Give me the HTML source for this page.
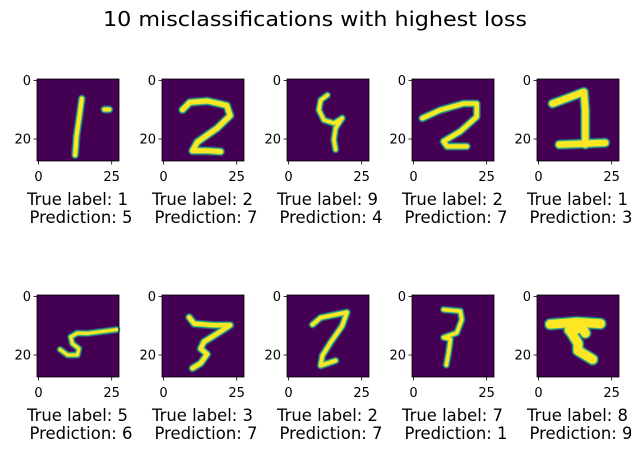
<!DOCTYPE html>
<html><head><meta charset="utf-8"><style>
body{margin:0;background:#fff;width:631px;height:453px;overflow:hidden}
svg{display:block}
text{font-family:"DejaVu Sans","Liberation Sans",sans-serif;fill:#000}
</style></head><body>
<svg id="fig" width="631" height="453" viewBox="0 0 631 453" xmlns="http://www.w3.org/2000/svg">
<text x="315" y="26" font-size="20" text-anchor="middle" textLength="424" lengthAdjust="spacingAndGlyphs">10 misclassifications with highest loss</text>
</svg>
<script>
const trueLabels = [1,2,9,2,1,5,3,2,7,8];
const predictions = [5,7,4,7,3,6,7,7,1,9];
const xTicks = [0,25];
const yTicks = [0,20];
const strokeWidths = [1.4,1.7,1.2,1.5,2.2,1.1,1.5,1.3,1.2,3.0];
const digitStrokes = [
 [[[14.8,6.2],[14,12],[13,19],[12.5,25.5]],[[22.5,9.9],[24.2,9.9]]],
 [[[6.5,10],[9,7.5],[15,7],[21.6,8.5],[22.8,12],[18.3,16.3],[11.6,21],[9.9,24],[15,24],[19.5,24.3]]],
 [[[13.3,5],[11,6.7],[10.4,10.1],[12.1,13.5],[15.5,14.6],[18.3,12.9]],[[18.3,12.9],[16.1,16.3],[15.5,20.2],[16.1,23.6]]],
 [[[3,12.9],[9.2,10.1],[17.1,7.9],[21.6,7.9],[21.6,12.4],[16,17.4],[10.3,20.8],[11.5,22.5],[18.2,22.5]]],
 [[[4.8,7.9],[11,5.6],[15.5,3.9],[16,10.1],[16,21.9]],[[7.1,21.9],[22.8,21.3]]],
 [[[26.7,11.3],[16.6,12.6],[13.3,12.5],[11,13.8],[11.6,16.1],[13.8,17.8],[13.3,20],[9.9,20],[7.4,18.1]]],
 [[[8.8,7.1],[10.5,9.3],[17.2,9.8],[22.8,9.8],[18.3,12.7],[13.8,15.5],[12.7,17.8],[14.9,19.7],[12.7,22.8],[9.9,24.5]]],
 [[[8.2,9.6],[11,7.2],[20,5.4],[18.3,10.1],[14.4,15.7],[11.6,20.2],[11,23.6],[16.1,21.9]]],
 [[[10.3,4.5],[16,5],[16.5,7.9],[14.8,12.4],[10.3,14],[12.6,14.6],[12,19.1],[11.2,23.4]]],
 [[[4,9.5],[13,8.8],[21.2,9.3]],[[11,12],[13.5,16],[13.5,18.5],[18.5,21.5]],[[10.5,11.5],[15,10.8],[16,12.5]]]
];
const NS="http://www.w3.org/2000/svg";
const svg=document.getElementById('fig');
const lefts=[37,162,287,412,537], tops=[79,295], S=82, U=S/28;
function el(tag,attrs,parent){const e=document.createElementNS(NS,tag);for(const k in attrs)e.setAttribute(k,attrs[k]);(parent||svg).appendChild(e);return e;}
for(let i=0;i<10;i++){
 const L=lefts[i%5], T=tops[Math.floor(i/5)];
 const g=el('g',{});
 
 
 const bg=el('rect',{x:L,y:T,width:S,height:S,fill:'#440154'},g);
 
 
 const w=strokeWidths[i];
 const layers=[[w+1.4,'#2c728e',0.7],[w+0.7,'#35b779',1],[w,'#fde725',1]];
 for(const [sw,col,op] of layers){
  for(const s of digitStrokes[i]){
   const pts=s.map(p=>(L+(p[0]+0.5)*U).toFixed(1)+','+(T+(p[1]+0.5)*U).toFixed(1)).join(' ');
   const pl=el('polyline',{points:pts,fill:'none',stroke:col,'stroke-width':(sw*U).toFixed(1),'stroke-linecap':'round','stroke-linejoin':'round',opacity:op},g);
   
   
  }
 }
 el('rect',{x:L,y:T,width:S,height:S,fill:'none',stroke:'#000','stroke-width':0.8},g);
 for(const t of xTicks){
  const x=L+(t+0.5)*U;
  el('line',{x1:x,y1:T+S,x2:x,y2:T+S+3.5,stroke:'#000','stroke-width':0.8},g);
  const tx=el('text',{x:x,y:T+S+20,'font-size':13,'text-anchor':'middle'},g);
  tx.textContent=t;
  
  
 }
 for(const t of yTicks){
  const y=T+(t+0.5)*U;
  el('line',{x1:L,y1:y,x2:L-3.5,y2:y,stroke:'#000','stroke-width':0.8},g);
  const tx=el('text',{x:L-6,y:y+4.6,'font-size':13,'text-anchor':'end'},g);
  tx.textContent=t;
  
  
 }
 const cx=L+S/2;
 const t1=el('text',{x:cx-0.5,y:T+S+44,'font-size':17,'text-anchor':'middle',textLength:101,lengthAdjust:'spacingAndGlyphs'},g);
 t1.textContent='True label: '+trueLabels[i];
 
 
 const t2=el('text',{x:cx+3,y:T+S+62,'font-size':17,'text-anchor':'middle',textLength:103,lengthAdjust:'spacingAndGlyphs'},g);
 t2.textContent='Prediction: '+predictions[i];
 
 
}
</script>
</body></html>
